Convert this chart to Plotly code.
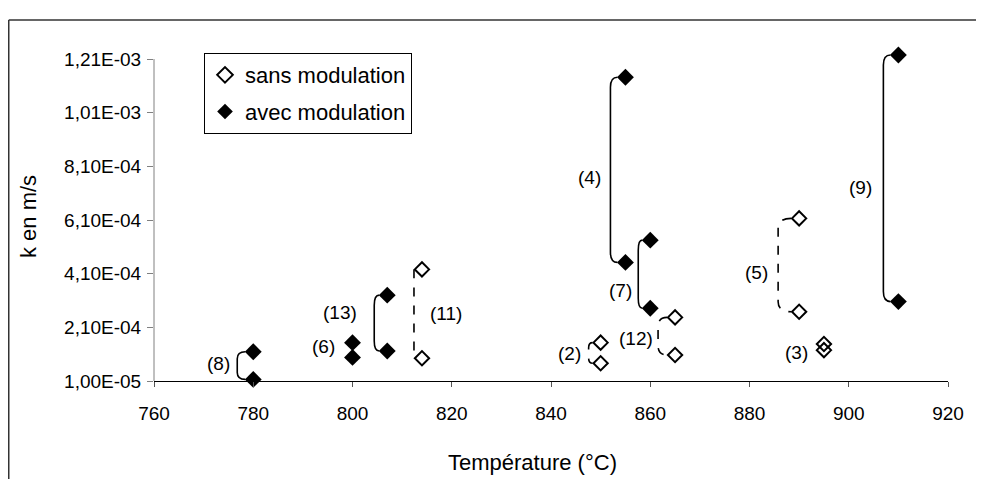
import plotly.graph_objects as go

# ---- data ----
T_sans = [814, 814, 850, 850, 865, 865, 890, 890, 895, 895]
k_sans = [4.26e-4, 9.5e-5, 1.53e-4, 7.6e-5, 2.47e-4, 1.07e-4, 6.16e-4, 2.68e-4, 1.48e-4, 1.25e-4]
T_avec = [780, 780, 800, 800, 807, 807, 855, 855, 860, 860, 910, 910]
k_avec = [1.19e-4, 1.6e-5, 1.53e-4, 9.8e-5, 3.3e-4, 1.22e-4, 1.142e-3, 4.52e-4, 5.35e-4, 2.81e-4, 1.225e-3, 3.06e-4]

y_tickvals = [1.0e-5, 2.1e-4, 4.1e-4, 6.1e-4, 8.1e-4, 1.01e-3, 1.21e-3]
y_ticktext = ["1,00E-05", "2,10E-04", "4,10E-04", "6,10E-04", "8,10E-04", "1,01E-03", "1,21E-03"]
x_tickvals = [760, 780, 800, 820, 840, 860, 880, 900, 920]

# brackets: (series, top index, bottom index, label)
brackets = [
    ("avec", 0, 1, "(8)"),
    ("avec", 4, 5, "(13)"),
    ("sans", 0, 1, "(11)"),
    ("avec", 6, 7, "(4)"),
    ("avec", 8, 9, "(7)"),
    ("sans", 2, 3, "(2)"),
    ("sans", 4, 5, "(12)"),
    ("sans", 6, 7, "(5)"),
    ("avec", 10, 11, "(9)"),
]
# labels: (text, T, k, anchor)
labels = [
    ("(8)", 775.7, 7.7e-5, "right"),
    ("(6)", 796.9, 1.37e-4, "right"),
    ("(13)", 801.3, 2.67e-4, "right"),
    ("(11)", 815.2, 2.63e-4, "left"),
    ("(4)", 850.5, 7.7e-4, "right"),
    ("(7)", 856.7, 3.49e-4, "right"),
    ("(12)", 861.0, 1.70e-4, "right"),
    ("(2)", 846.4, 1.14e-4, "right"),
    ("(5)", 884.1, 4.13e-4, "right"),
    ("(3)", 892.2, 1.18e-4, "right"),
    ("(9)", 905.0, 7.33e-4, "right"),
]

# ---- geometry (figure pixel coords; page body adds an 8px offset) ----
W, H = 984, 479
L, R, B = 146, 940, 373
Y_TOP_TICK_PX = 51          # pixel of the 1,21E-03 tick
XR = (760, 920)
YAX = (1.0e-5, 1.21e-3)     # visible axis extent
ky = (B - Y_TOP_TICK_PX) / (YAX[1] - YAX[0])
YR = (YAX[0], 1.24e-3)      # range slightly extended so the top point is drawn
TOP = B - (YR[1] - YR[0]) * ky
px2x = lambda p: (p - L) / (R - L)
py2y = lambda p: (B - p) / (B - TOP)
d2x = lambda t: (t - XR[0]) / (XR[1] - XR[0])
d2y = lambda k: (k - YR[0]) / (YR[1] - YR[0])

FONT = "Liberation Sans, Arial, sans-serif"

fig = go.Figure()
fig.add_trace(go.Scatter(
    x=T_sans, y=k_sans, mode="markers", name="sans modulation", legendgroup="a", cliponaxis=False,
    marker=dict(symbol="diamond-open", size=11, color="black", line=dict(width=2, color="black")),
))
fig.add_trace(go.Scatter(
    x=T_avec, y=k_avec, mode="markers", name="avec modulation", legendgroup="b", cliponaxis=False,
    marker=dict(symbol="diamond", size=13, color="black"),
))

series = {"sans": (T_sans, k_sans), "avec": (T_avec, k_avec)}
offsets = {"(8)": 16, "(13)": 13, "(11)": 8, "(4)": 15, "(7)": 12, "(2)": 12, "(12)": 17, "(5)": 21, "(9)": 15}
f = lambda v: f"{v:.6f}"
for s, it, ib, lab in brackets:
    Ts, ks = series[s]
    t = Ts[it]
    off = offsets[lab]
    xt = d2x(t)
    xs = xt - 8 / (R - L)
    xv = xt - off / (R - L)
    yt, yb = d2y(ks[it]), d2y(ks[ib])
    hpx = (yt - yb) * (B - TOP)
    ry = min(10, 0.25 * hpx) / (B - TOP)
    path = (f"M {f(xs)},{f(yt)} Q {f(xv)},{f(yt)} {f(xv)},{f(yt - ry)} "
            f"L {f(xv)},{f(yb + ry)} Q {f(xv)},{f(yb)} {f(xs)},{f(yb)}")
    fig.add_shape(type="path", path=path, xref="paper", yref="paper",
                  line=dict(color="black", width=1.6, dash="dash" if s == "sans" else "solid"))

for txt, tx, ty, anc in labels:
    fig.add_annotation(x=tx, y=ty, text=txt, showarrow=False, xanchor=anc, yanchor="middle",
                       font=dict(family=FONT, size=19, color="black"))

# axis titles
fig.add_annotation(x=px2x(524), y=py2y(455), xref="paper", yref="paper", text="Température (°C)",
                   showarrow=False, xanchor="center", yanchor="middle",
                   font=dict(family=FONT, size=22, color="black"))
fig.add_annotation(x=px2x(20), y=py2y(209), xref="paper", yref="paper", text="k en m/s", textangle=-90,
                   showarrow=False, xanchor="center", yanchor="middle",
                   font=dict(family=FONT, size=22, color="black"))

# y axis line (only over the tick extent)
fig.add_shape(type="line", xref="paper", yref="paper", x0=0, x1=0, y0=d2y(YAX[0]), y1=d2y(YAX[1]),
              line=dict(color="#808080", width=1))

# outer chart frame
fig.add_shape(type="line", xref="paper", yref="paper", x0=px2x(0.75), x1=px2x(1000), y0=py2y(12), y1=py2y(12),
              line=dict(color="#333333", width=1.5))
fig.add_shape(type="line", xref="paper", yref="paper", x0=px2x(0.75), x1=px2x(0.75), y0=py2y(12), y1=py2y(500),
              line=dict(color="#333333", width=1.5))

fig.update_layout(
    width=W, height=H, autosize=False,
    margin=dict(l=L, r=W - R, t=TOP, b=H - B, pad=0),
    paper_bgcolor="white", plot_bgcolor="white",
    font=dict(family=FONT, size=19, color="black"),
    showlegend=True,
    legend=dict(x=px2x(196), y=py2y(45), xanchor="left", yanchor="top",
                bgcolor="white", bordercolor="black", borderwidth=1,
                font=dict(family=FONT, size=22), tracegroupgap=5, itemsizing="constant"),
    xaxis=dict(range=list(XR), tickvals=x_tickvals, showgrid=False, zeroline=False,
               showline=True, linecolor="black", linewidth=1,
               ticks="outside", ticklen=5, tickcolor="#555555", ticklabelstandoff=10,
               tickfont=dict(family=FONT, size=19)),
    yaxis=dict(range=list(YR), tickvals=y_tickvals, ticktext=y_ticktext, showgrid=False, zeroline=False,
               showline=False,
               ticks="outside", ticklen=6, tickcolor="#808080", ticklabelstandoff=2,
               tickfont=dict(family=FONT, size=19)),
)

fig.write_html("out.html")
